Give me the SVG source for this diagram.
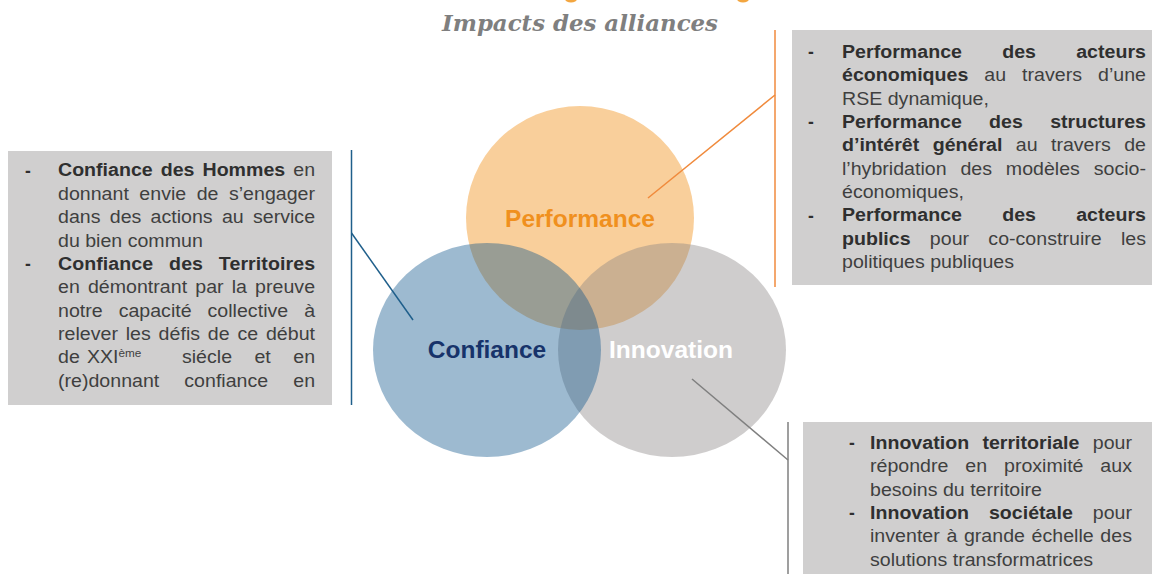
<svg xmlns="http://www.w3.org/2000/svg" width="1152" height="574" viewBox="0 0 1152 574">
<style>
.box{fill:#D0CFCF}
.t{font-family:"Liberation Sans",Arial,sans-serif;font-size:17.5px;fill:#3F3F3F}
.b{font-weight:bold;fill:#2F2F2F}
.dash{font-family:"Liberation Sans",Arial,sans-serif;font-size:17.5px;font-weight:bold;fill:#2F2F2F}
.lbl{font-family:"Liberation Sans",Arial,sans-serif;font-size:24.5px;font-weight:bold;text-anchor:middle}
.conn{fill:none;stroke-width:1.5}
</style>
<rect width="1152" height="574" fill="#FFFFFF"/>
<ellipse cx="571" cy="-1" rx="6" ry="3.5" fill="#F3A640"/>
<ellipse cx="743" cy="-1" rx="6" ry="3.5" fill="#F3A640"/>
<text id="title" x="442" y="31" textLength="276" lengthAdjust="spacingAndGlyphs" font-family="'DejaVu Serif','Liberation Serif',serif" font-size="22" font-weight="bold" font-style="italic" fill="#7F7F7F">Impacts des alliances</text>

<g id="venn">
<g id="performance">
<ellipse cx="580" cy="218" rx="114" ry="112" fill="#F08705" fill-opacity="0.4"/>
</g>
<g id="innovation">
<ellipse cx="672" cy="350" rx="114" ry="107" fill="#878282" fill-opacity="0.4"/>
</g>
<g id="confiance">
<ellipse cx="487" cy="350" rx="114" ry="107" fill="#0A5289" fill-opacity="0.4"/>
</g>
<text class="lbl" x="580" y="227" fill="#F0901E">Performance</text>
<text class="lbl" x="487" y="358" fill="#17336A">Confiance</text>
<text class="lbl" x="671" y="358" fill="#FFFFFF">Innovation</text>
</g>

<g id="connectors">
<polyline class="conn" stroke="#1F5F8B" points="351.5,150 351.5,405"/>
<line class="conn" stroke="#1F5F8B" x1="351.5" y1="233" x2="413" y2="320"/>
<polyline class="conn" stroke="#F08A3C" points="775,30 775,287"/>
<line class="conn" stroke="#F08A3C" x1="775" y1="95" x2="648" y2="198"/>
<polyline class="conn" stroke="#7F7F7F" points="788,422 788,574"/>
<line class="conn" stroke="#7F7F7F" x1="788" y1="460" x2="692" y2="379"/>
</g>

<g id="box-confiance">
<rect class="box" x="8" y="151" width="324" height="254"/>
<text class="dash" x="25" y="176.5">-</text>
<text class="dash" x="25" y="269.9">-</text>
<g transform="translate(58 0) scale(1.12 1)">
<text class="t" y="176.5" textLength="229.5" lengthAdjust="spacing" style="word-spacing:2.3px"><tspan class="b">Confiance des Hommes</tspan> en</text>
<text class="t" y="199.9" textLength="229.5" lengthAdjust="spacing" style="word-spacing:4.5px">donnant envie de s’engager</text>
<text class="t" y="223.2" textLength="229.5" lengthAdjust="spacing" style="word-spacing:3.4px">dans des actions au service</text>
<text class="t" y="246.6">du bien commun</text>
<text class="t b" y="269.9" textLength="229.5" lengthAdjust="spacing" style="word-spacing:9.2px">Confiance des Territoires</text>
<text class="t" y="293.3" textLength="229.5" lengthAdjust="spacing" style="word-spacing:2.4px">en démontrant par la preuve</text>
<text class="t" y="316.6" textLength="229.5" lengthAdjust="spacing" style="word-spacing:9.4px">notre capacité collective à</text>
<text class="t" y="340" textLength="229.5" lengthAdjust="spacing" style="word-spacing:2.1px">relever les défis de ce début</text>
<text class="t" x="0" y="363.3">de</text>
<text class="t" x="25.9" y="363.3">XXI<tspan font-size="10.5" dy="-6.5">ème</tspan></text>
<text class="t" x="110.7" y="363.3">siécle</text>
<text class="t" x="175.4" y="363.3">et</text>
<text class="t" x="229.5" y="363.3" text-anchor="end">en</text>
<text class="t" y="386.7" textLength="229.5" lengthAdjust="spacing" style="word-spacing:17.5px">(re)donnant confiance en</text>
</g>
</g>

<g id="box-performance">
<rect class="box" x="792" y="30" width="360" height="255"/>
<text class="dash" x="808" y="58">-</text>
<text class="dash" x="808" y="128.1">-</text>
<text class="dash" x="808" y="221.5">-</text>
<g transform="translate(842 0) scale(1.12 1)">
<text class="t b" y="58" textLength="271.4" lengthAdjust="spacing" style="word-spacing:31px">Performance des acteurs</text>
<text class="t" y="81.4" textLength="271.4" lengthAdjust="spacing" style="word-spacing:9.4px"><tspan class="b">économiques</tspan> au travers d’une</text>
<text class="t" y="104.7">RSE dynamique,</text>
<text class="t b" y="128.1" textLength="271.4" lengthAdjust="spacing" style="word-spacing:19.5px">Performance des structures</text>
<text class="t" y="151.4" textLength="271.4" lengthAdjust="spacing" style="word-spacing:7.1px"><tspan class="b">d’intérêt général</tspan> au travers de</text>
<text class="t" y="174.8" textLength="271.4" lengthAdjust="spacing" style="word-spacing:7.5px">l’hybridation des modèles socio-</text>
<text class="t" y="198.1">économiques,</text>
<text class="t b" y="221.5" textLength="271.4" lengthAdjust="spacing" style="word-spacing:31px">Performance des acteurs</text>
<text class="t" y="244.8" textLength="271.4" lengthAdjust="spacing" style="word-spacing:12.3px"><tspan class="b">publics</tspan> pour co-construire les</text>
<text class="t" y="268.2">politiques publiques</text>
</g>
</g>

<g id="box-innovation">
<rect class="box" x="803" y="422" width="349" height="152"/>
<text class="dash" x="849" y="449">-</text>
<text class="dash" x="849" y="519.1">-</text>
<g transform="translate(870 0) scale(1.12 1)">
<text class="t" y="449" textLength="233.9" lengthAdjust="spacing" style="word-spacing:7px"><tspan class="b">Innovation territoriale</tspan> pour</text>
<text class="t" y="472.4" textLength="233.9" lengthAdjust="spacing" style="word-spacing:10.2px">répondre en proximité aux</text>
<text class="t" y="495.7">besoins du territoire</text>
<text class="t" y="519.1" textLength="233.9" lengthAdjust="spacing" style="word-spacing:12.9px"><tspan class="b">Innovation sociétale</tspan> pour</text>
<text class="t" y="542.4" textLength="233.9" lengthAdjust="spacing" style="word-spacing:1px">inventer à grande échelle des</text>
<text class="t" y="565.8">solutions transformatrices</text>
</g>
</g>
</svg>
